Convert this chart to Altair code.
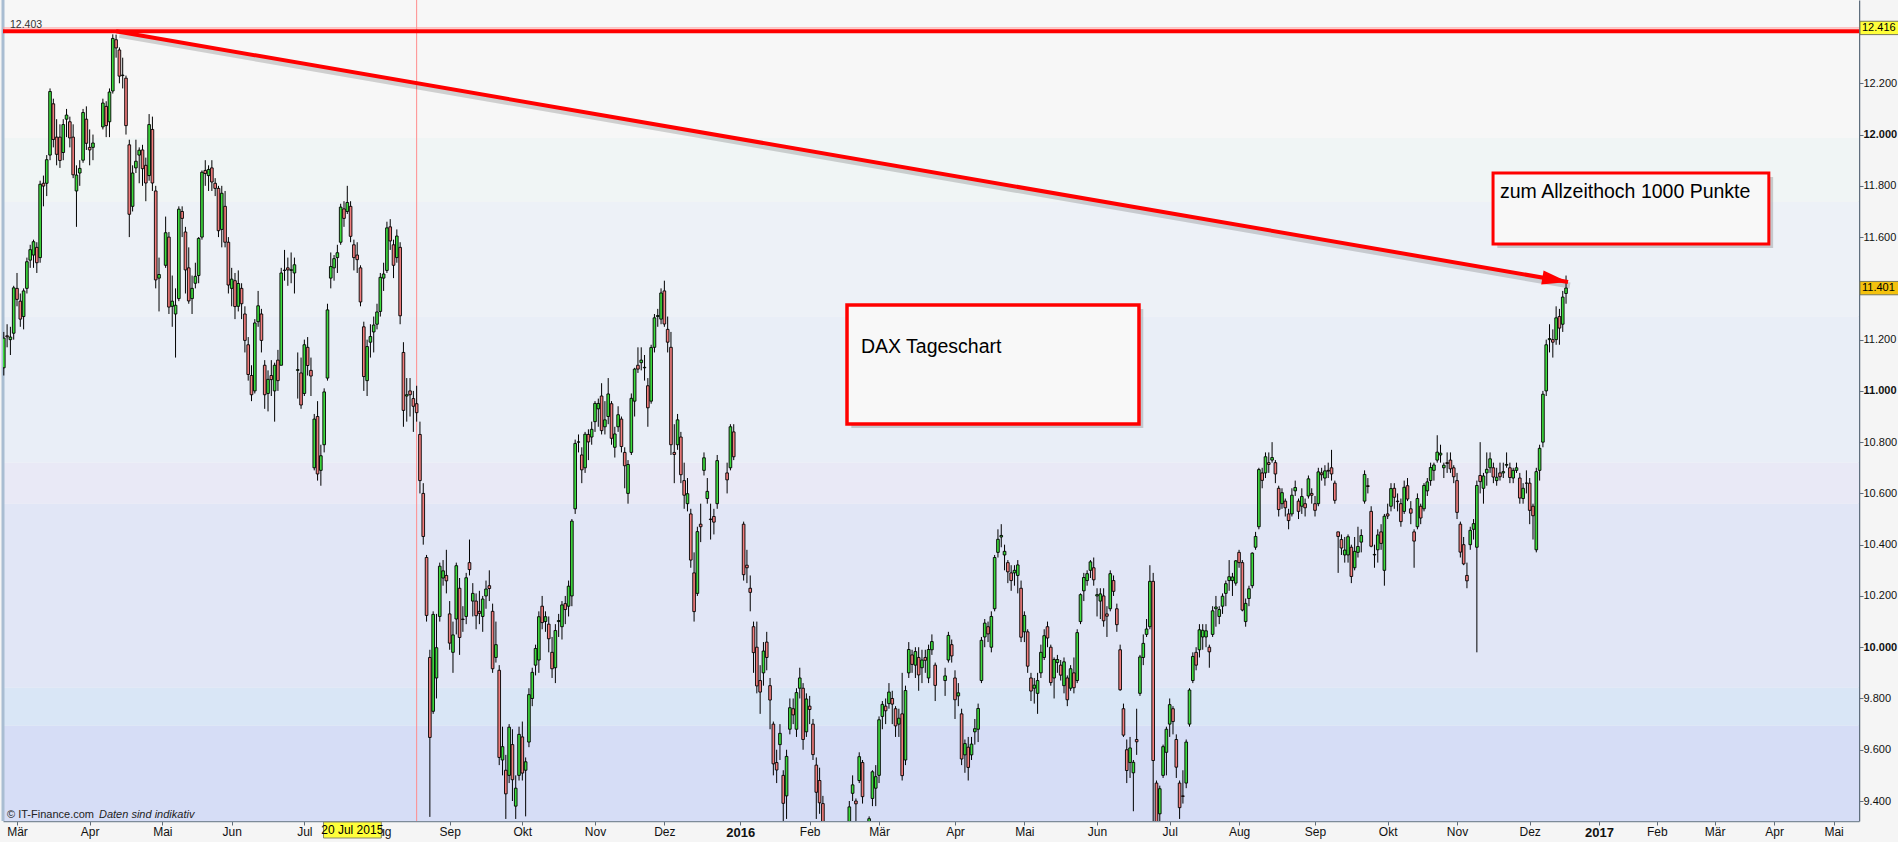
import json

import altair as alt
import numpy as np
import pandas as pd

# ---------------------------------------------------------------------------
# DAX daily candles (index points), one line per month
# ---------------------------------------------------------------------------
OPEN_2015 = [
    11090, 11215, 11200, 11225,
    11400, 11350, 11290, 11400, 11510, 11530, 11560, 11520, 11810, 11810, 11920, 12120, 11990, 11990, 11930, 12060, 12050, 11990, 11780, 11850, 11900, 12060,
    11950, 11950, 12030, 12110, 12050, 12170, 12370, 12330, 12230, 12220, 11960, 11720, 11870, 11920, 11940, 11880, 11840, 12020, 11780, 11440,
    11490, 11600, 11330, 11300, 11360, 11700, 11620, 11480, 11360, 11420, 11450, 11600, 11860, 11840, 11870, 11810, 11790, 11630, 11720, 11580,
    11400, 11430, 11330, 11400, 11300, 11180, 11060, 11000, 11270, 11300, 11100, 10990, 11060, 11000, 11120, 11100, 11470, 11480, 11470, 11460, 11080, 11070,
    10990, 11170, 11080, 10700, 10900, 10690, 10790, 11050, 11440, 11480, 11520, 11580, 11710, 11700, 11720, 11570, 11530, 11480, 11250, 11040, 11190, 11230, 11260,
    11310, 11440, 11470, 11640, 11570, 11520, 11560, 11150, 10980, 11000, 10970, 10950, 10830, 10600, 10350, 9960, 9750, 9880, 10120, 10270, 10280,
    10130, 9980, 10110, 10230, 10110, 10120, 10330, 10180, 10180, 10140, 10120, 10200, 10240, 10140, 9960, 9910, 9560, 9520, 9500, 9620, 9380, 9500,
    9650, 9520, 9630, 9800, 9930, 9950, 10160, 10100, 10090, 9980, 9920, 10100, 10080, 10170, 10160, 10200, 10540, 10800, 10750, 10700, 10830, 10820,
    10880, 10930, 10980, 10860, 10900, 10950, 10780, 10860, 10890, 10760, 10600, 10760, 10960, 11100, 11110, 11090, 11020, 10960, 11170, 11290, 11280,
    11390, 11240, 11170, 10760, 10790, 10820, 10650, 10560, 10520, 10290, 10210, 10480, 10690, 10580, 10500, 10510, 10560, 10680, 10700, 10840,
]
HIGH_2015 = [
    11230, 11260, 11250, 11410,
    11460, 11380, 11400, 11520, 11570, 11590, 11580, 11820, 11840, 11920, 12180, 12140, 12060, 12040, 12060, 12100, 12070, 12040, 11880, 11900, 12100, 12110,
    12020, 12000, 12140, 12130, 12180, 12391, 12390, 12340, 12300, 12230, 11980, 11880, 11980, 11950, 11960, 11910, 12080, 12070, 11800, 11520,
    11680, 11620, 11450, 11400, 11720, 11720, 11640, 11560, 11450, 11500, 11600, 11860, 11900, 11880, 11900, 11830, 11800, 11800, 11780, 11600,
    11480, 11460, 11470, 11420, 11330, 11210, 11100, 11280, 11390, 11320, 11120, 11080, 11120, 11110, 11160, 11480, 11550, 11520, 11540, 11520, 11150, 11130,
    11200, 11210, 11130, 10910, 10960, 10790, 11010, 11340, 11540, 11530, 11570, 11730, 11740, 11800, 11740, 11590, 11580, 11490, 11270, 11200, 11260, 11290, 11340,
    11460, 11500, 11660, 11670, 11590, 11630, 11580, 11190, 11050, 11050, 11000, 11020, 10880, 10640, 10360, 9990, 10140, 10130, 10330, 10340, 10380,
    10180, 10100, 10330, 10270, 10160, 10290, 10420, 10250, 10210, 10220, 10200, 10260, 10300, 10170, 10100, 9930, 9690, 9580, 9700, 9680, 9500, 9690,
    9710, 9570, 9840, 9920, 10010, 10140, 10200, 10140, 10120, 10040, 10090, 10130, 10180, 10200, 10260, 10500, 10810, 10830, 10780, 10840, 10850, 10880,
    10960, 10970, 11030, 10960, 11050, 10960, 10860, 10940, 10900, 10780, 10730, 10990, 11090, 11170, 11170, 11140, 11050, 11180, 11300, 11320, 11400,
    11430, 11290, 11230, 10870, 10910, 10840, 10720, 10660, 10540, 10370, 10470, 10560, 10760, 10660, 10560, 10540, 10750, 10720, 10870, 10870,
]
LOW_2015 = [
    11060, 11170, 11140, 11200,
    11330, 11250, 11240, 11380, 11480, 11480, 11460, 11500, 11720, 11760, 11900, 11950, 11880, 11870, 11900, 11990, 11950, 11830, 11640, 11800, 11890, 11940,
    11880, 11900, 12020, 11990, 11990, 12160, 12300, 12200, 12180, 12000, 11600, 11700, 11850, 11810, 11800, 11740, 11820, 11780, 11400, 11310,
    11480, 11300, 11250, 11130, 11350, 11600, 11380, 11340, 11300, 11400, 11420, 11590, 11800, 11780, 11780, 11760, 11600, 11560, 11560, 11380,
    11330, 11280, 11310, 11280, 11150, 11040, 10960, 10990, 11250, 11150, 10930, 10920, 10980, 10880, 11000, 11100, 11430, 11410, 11420, 11380, 10970, 10930,
    10980, 11060, 10980, 10690, 10650, 10630, 10760, 11040, 11400, 11430, 11460, 11570, 11640, 11690, 11580, 11470, 11460, 11330, 11000, 10980, 11130, 11150, 11240,
    11290, 11390, 11460, 11550, 11440, 11500, 11260, 10860, 10880, 10900, 10840, 10880, 10600, 10400, 10100, 9338, 9740, 9800, 10100, 10240, 10210,
    9990, 9900, 10050, 9970, 10060, 10090, 10280, 10120, 10070, 10090, 10060, 10150, 10180, 9900, 9940, 9540, 9500, 9330, 9470, 9400, 9330, 9480,
    9480, 9340, 9610, 9770, 9890, 9900, 10070, 10060, 9980, 9880, 9860, 10040, 10030, 10090, 10120, 10160, 10520, 10760, 10640, 10680, 10730, 10790,
    10840, 10860, 10830, 10830, 10870, 10790, 10740, 10840, 10760, 10620, 10560, 10750, 10900, 11070, 11080, 11040, 10860, 10950, 11150, 11250, 11260,
    11250, 11150, 10750, 10640, 10770, 10640, 10540, 10530, 10310, 10100, 10200, 10410, 10670, 10560, 10420, 10440, 10540, 10600, 10690, 10730,
]
CLOSE_2015 = [
    11206, 11211, 11210, 11402,
    11357, 11280, 11390, 11504, 11551, 11582, 11500, 11806, 11799, 11902, 12168, 11981, 11923, 11899, 12039, 12076, 11987, 11843, 11842, 11868, 12086, 11966,
    11940, 11967, 12123, 12035, 12166, 12375, 12338, 12228, 12232, 12035, 11689, 11850, 11896, 11939, 11867, 11811, 12039, 11811, 11433, 11454,
    11617, 11327, 11350, 11334, 11709, 11673, 11472, 11351, 11400, 11447, 11595, 11853, 11848, 11864, 11815, 11790, 11625, 11771, 11580, 11413,
    11436, 11329, 11419, 11340, 11197, 11064, 10985, 11265, 11332, 11197, 10985, 11045, 11044, 11100, 11040, 11460, 11471, 11472, 11473, 11492, 11083, 10945,
    11180, 11099, 11058, 10890, 10676, 10747, 10996, 11316, 11485, 11516, 11539, 11717, 11673, 11735, 11603, 11520, 11512, 11347, 11056, 11173, 11212, 11257, 11308,
    11443, 11456, 11636, 11585, 11490, 11604, 11293, 10924, 10985, 10985, 10940, 10915, 10650, 10432, 10124, 9648, 10128, 9998, 10316, 10298, 10259,
    10016, 10048, 10318, 10038, 10108, 10271, 10303, 10210, 10123, 10132, 10188, 10227, 10229, 9916, 10010, 9570, 9612, 9428, 9688, 9483, 9450, 9660,
    9509, 9553, 9815, 9902, 9995, 10119, 10096, 10119, 10033, 9916, 10065, 10104, 10165, 10147, 10238, 10492, 10795, 10801, 10692, 10831, 10801, 10850,
    10951, 10951, 10845, 10887, 10988, 10815, 10832, 10907, 10783, 10708, 10713, 10971, 11085, 11085, 11120, 11092, 10934, 11169, 11285, 11294, 11382,
    11261, 11190, 10790, 10752, 10887, 10673, 10593, 10599, 10340, 10139, 10451, 10470, 10739, 10608, 10498, 10488, 10728, 10653, 10860, 10743,
]

OPEN_2016 = [
    10480, 10320, 10230, 10080, 10000, 9870, 9900, 10020, 9850, 9700, 9550, 9620, 9500, 9420, 9680, 9760, 9680, 9840, 9840, 9670,
    9770, 9700, 9540, 9480, 9390, 9260, 8940, 8960, 8900, 8830, 9110, 9240, 9200, 9430, 9400, 9480, 9550, 9300, 9250, 9410, 9450,
    9500, 9730, 9770, 9780, 9800, 9760, 9700, 9740, 9560, 9900, 9970, 9930, 9960, 9920, 9960, 9880, 9990, 9930, 9870, 9950, 10010,
    9880, 9810, 9740, 9580, 9610, 9580, 9670, 9680, 9870, 10040, 10080, 10000, 10150, 10370, 10430, 10360, 10330, 10290, 10290, 10280, 10230,
    10060, 10060, 9880, 9840, 9820, 9900, 9960, 10080, 10000, 9880, 9940, 9930, 9850, 9880, 9840, 9900, 9870, 10100, 10220, 10260, 10300, 10310,
    10200, 10180, 10200, 10130, 10150, 10260, 10150, 9990, 9760, 9600, 9550, 9510, 9640, 9820, 9960, 10050, 10080, 10257, 9470, 9350, 9500, 9590,
    9700, 9760, 9640, 9470, 9420, 9470, 9700, 9870, 9980, 9990, 10040, 10040, 10000, 10050, 10150, 10120, 10160, 10210, 10260, 10260, 10250,
    10370, 10330, 10100, 10190, 10240, 10390, 10470, 10680, 10680, 10720, 10730, 10720, 10620, 10560, 10570, 10520, 10520, 10610, 10570, 10550, 10560, 10590, 10600,
    10560, 10560, 10680, 10660, 10690, 10700, 10640, 10450, 10420, 10360, 10360, 10390, 10310, 10370, 10410, 10570, 10630, 10530, 10360, 10380, 10450, 10300,
    10520, 10550, 10620, 10570, 10560, 10530, 10630, 10540, 10450, 10470, 10550, 10540, 10610, 10650, 10690, 10730, 10750, 10700, 10720, 10730, 10700,
    10650, 10480, 10400, 10280, 10400, 10460, 10390, 10670, 10620, 10680, 10700, 10700, 10650, 10680, 10680, 10710, 10700, 10660, 10690, 10660, 10580, 10640,
    10640, 10550, 10380, 10690, 10800, 11000, 11200, 11200, 11200, 11290, 11260, 11380,
]
HIGH_2016 = [
    10490, 10380, 10280, 10100, 10100, 9930, 10020, 10060, 9880, 9710, 9600, 9700, 9520, 9600, 9800, 9800, 9840, 9920, 9860, 9820,
    9810, 9720, 9570, 9530, 9420, 9280, 9050, 9100, 8920, 9000, 9240, 9320, 9400, 9500, 9410, 9590, 9560, 9310, 9340, 9520, 9540,
    9730, 9790, 9800, 9860, 9830, 9770, 9760, 9900, 9850, 10020, 9990, 10000, 10000, 9990, 9990, 10010, 10050, 9940, 9920, 10060, 10030,
    9910, 9860, 9760, 9640, 9650, 9650, 9720, 9780, 10040, 10110, 10100, 10140, 10360, 10460, 10480, 10400, 10340, 10320, 10320, 10340, 10260,
    10140, 10070, 9900, 9880, 9900, 10010, 10070, 10100, 10010, 9960, 9970, 9950, 9960, 9890, 9930, 9960, 10070, 10210, 10290, 10300, 10340, 10350,
    10230, 10230, 10230, 10160, 10300, 10280, 10170, 10010, 9780, 9640, 9650, 9560, 9760, 9970, 10050, 10110, 10320, 10290, 9480, 9460, 9620, 9690,
    9800, 9770, 9660, 9480, 9520, 9640, 9840, 9980, 10000, 10090, 10090, 10090, 10010, 10160, 10200, 10160, 10210, 10260, 10340, 10290, 10340,
    10380, 10340, 10190, 10240, 10370, 10450, 10700, 10700, 10760, 10760, 10800, 10730, 10630, 10620, 10580, 10540, 10620, 10650, 10580, 10620, 10580, 10670, 10620,
    10590, 10700, 10700, 10710, 10720, 10770, 10650, 10450, 10440, 10430, 10440, 10400, 10430, 10470, 10460, 10690, 10660, 10550, 10400, 10460, 10480, 10520,
    10560, 10640, 10640, 10600, 10580, 10650, 10660, 10570, 10460, 10600, 10560, 10640, 10660, 10720, 10720, 10827, 10790, 10720, 10760, 10760, 10710,
    10680, 10490, 10430, 10330, 10470, 10500, 10650, 10800, 10680, 10760, 10760, 10720, 10700, 10720, 10720, 10760, 10720, 10700, 10720, 10680, 10640, 10690,
    10660, 10560, 10700, 10790, 11000, 11200, 11260, 11240, 11330, 11320, 11390, 11450,
]
LOW_2016 = [
    10260, 10250, 10140, 9900, 9820, 9740, 9850, 9910, 9680, 9500, 9470, 9560, 9310, 9330, 9660, 9700, 9650, 9800, 9600, 9650,
    9700, 9560, 9330, 9350, 9240, 8950, 8780, 8900, 8700, 8820, 9100, 9100, 9150, 9400, 9300, 9470, 9390, 9100, 9200, 9380, 9380,
    9470, 9680, 9700, 9760, 9700, 9650, 9650, 9480, 9540, 9880, 9900, 9880, 9830, 9860, 9900, 9860, 9970, 9790, 9810, 9940, 9940,
    9720, 9770, 9540, 9510, 9480, 9560, 9620, 9630, 9860, 10000, 10020, 9980, 10140, 10350, 10390, 10300, 10250, 10220, 10240, 10210, 10020,
    10020, 9900, 9790, 9780, 9740, 9880, 9950, 10000, 9850, 9800, 9900, 9870, 9820, 9770, 9830, 9820, 9860, 10090, 10180, 10240, 10270, 10240,
    10120, 10110, 10080, 10040, 10140, 10200, 10060, 9830, 9650, 9470, 9490, 9360, 9580, 9810, 9930, 10040, 10070, 9214, 9210, 9300, 9490, 9500,
    9650, 9660, 9490, 9330, 9390, 9450, 9690, 9860, 9910, 9960, 9990, 10000, 9920, 10040, 10080, 10090, 10130, 10160, 10220, 10200, 10240,
    10310, 10140, 10080, 10160, 10230, 10380, 10460, 10620, 10660, 10680, 10720, 10640, 10510, 10540, 10510, 10460, 10510, 10590, 10500, 10520, 10510, 10580, 10560,
    10510, 10550, 10650, 10630, 10660, 10650, 10560, 10290, 10360, 10330, 10330, 10250, 10300, 10350, 10370, 10560, 10600, 10390, 10310, 10330, 10380, 10240,
    10500, 10530, 10540, 10530, 10470, 10520, 10570, 10480, 10310, 10460, 10480, 10530, 10590, 10630, 10650, 10720, 10720, 10660, 10680, 10680, 10640,
    10500, 10350, 10320, 10230, 10380, 10420, 9980, 10600, 10560, 10630, 10680, 10640, 10630, 10650, 10660, 10700, 10640, 10640, 10680, 10560, 10560, 10600,
    10480, 10420, 10370, 10650, 10780, 10980, 11150, 11130, 11180, 11180, 11230, 11340,
]
CLOSE_2016 = [
    10283, 10310, 10214, 9979, 9849, 9825, 9985, 9960, 9794, 9545, 9521, 9664, 9391, 9574, 9764, 9736, 9823, 9880, 9640, 9798,
    9757, 9581, 9434, 9393, 9286, 8980, 8879, 9017, 8752, 8967, 9207, 9135, 9377, 9463, 9389, 9573, 9417, 9167, 9331, 9514, 9495,
    9717, 9777, 9752, 9825, 9778, 9693, 9723, 9499, 9831, 9991, 9933, 9983, 9892, 9950, 9949, 9991, 10022, 9851, 9888, 10046, 9966,
    9795, 9822, 9564, 9624, 9531, 9622, 9682, 9761, 10027, 10094, 10052, 10120, 10350, 10421, 10436, 10374, 10294, 10260, 10300, 10321, 10039,
    10124, 9926, 9829, 9852, 9870, 9980, 10045, 10036, 9862, 9952, 9952, 9891, 9943, 9795, 9916, 9842, 10057, 10205, 10272, 10287, 10333, 10263,
    10205, 10208, 10103, 10121, 10287, 10218, 10088, 9834, 9657, 9519, 9607, 9551, 9631, 9962, 10015, 10071, 10257, 9558, 9269, 9448, 9612, 9680,
    9776, 9710, 9532, 9374, 9418, 9630, 9833, 9964, 9930, 10068, 10066, 10064, 9982, 10142, 10157, 10147, 10199, 10248, 10275, 10274, 10337,
    10330, 10145, 10171, 10228, 10367, 10432, 10693, 10651, 10743, 10713, 10740, 10676, 10537, 10603, 10544, 10494, 10593, 10623, 10530, 10588, 10544, 10657, 10593,
    10534, 10684, 10673, 10688, 10687, 10676, 10573, 10432, 10387, 10379, 10431, 10276, 10374, 10393, 10436, 10674, 10627, 10394, 10362, 10438, 10405, 10511,
    10512, 10619, 10585, 10568, 10490, 10624, 10578, 10523, 10414, 10580, 10504, 10631, 10645, 10701, 10711, 10761, 10757, 10710, 10717, 10696, 10665,
    10526, 10371, 10325, 10259, 10456, 10482, 10631, 10646, 10668, 10694, 10735, 10664, 10663, 10665, 10685, 10713, 10662, 10690, 10700, 10582, 10620, 10640,
    10534, 10513, 10685, 10776, 10987, 11180, 11204, 11190, 11285, 11245, 11366, 11401,
]

FIRST_DAY, LAST_DAY = "2015-02-24", "2016-12-16"
HOLIDAYS = ["2015-04-03", "2015-04-06", "2015-05-01", "2015-12-24", "2015-12-25",
            "2015-12-31", "2016-01-01", "2016-03-25", "2016-03-28"]
ORIGIN = "2015-03-02"          # slot 0 of the weekday axis

MONTH_LABELS = ["Mär", "Apr", "Mai", "Jun", "Jul", "Aug", "Sep", "Okt", "Nov", "Dez",
                "2016", "Feb", "Mär", "Apr", "Mai", "Jun", "Jul", "Aug", "Sep", "Okt", "Nov", "Dez",
                "2017", "Feb", "Mär", "Apr", "Mai"]
FUTURE_TICKS = [479, 496.5, 514, 532, 550]   # 2017 months in the projection area

# background shading bands (edges in index points, top to bottom)
BAND_EDGES = [12525, 11987, 11738, 11289, 10720, 10560, 9842, 9694, 9322]
BAND_COLORS = ["#F7F7F7", "#F0F5F5", "#EDF1F7", "#E9EEF7", "#E9E9F6", "#E1E6F6", "#D9E6F6", "#D6DDF6"]

ALL_TIME_HIGH = 12403
HIGH_MARK = 12416
LAST_PRICE = 11401

# ---------------------------------------------------------------------------
W, H = 1856, 821
X_MIN, X_MAX = -4.24, 557.7
Y_MIN, Y_MAX = 9322, 12525
FONT = "Liberation Sans, Arial, sans-serif"
NARROW = "Liberation Sans Narrow, Arial Narrow, Liberation Sans, sans-serif"
GREEN, RED = "#3DDC3D", "#F27D7D"


def slot_of(day):
    return int(np.busday_count(np.datetime64(ORIGIN), np.datetime64(day, "D")))


days = pd.bdate_range(FIRST_DAY, LAST_DAY)
days = days[~days.isin(pd.to_datetime(HOLIDAYS))]
opens, highs = OPEN_2015 + OPEN_2016, HIGH_2015 + HIGH_2016
lows, closes = LOW_2015 + LOW_2016, CLOSE_2015 + CLOSE_2016
assert len(days) == len(opens) == len(highs) == len(lows) == len(closes)

candles = pd.DataFrame({
    "slot": np.busday_count(np.datetime64(ORIGIN), days.values.astype("datetime64[D]")),
    "open": opens, "high": highs, "low": lows, "close": closes,
})
candles["x0"] = candles["slot"] - 0.4
candles["x1"] = candles["slot"] + 0.4
candles["fill"] = np.where(candles["close"] >= candles["open"], GREEN, RED)

month_starts = pd.date_range("2015-03-01", "2016-12-01", freq="MS").values.astype("datetime64[D]")
first_bdays = np.busday_offset(month_starts, 0, roll="forward")
tick_slots = [int(v) for v in np.busday_count(np.datetime64(ORIGIN), first_bdays)] + FUTURE_TICKS
year_slots = [tick_slots[MONTH_LABELS.index("2016")], tick_slots[MONTH_LABELS.index("2017")]]
year_test = " || ".join(f"datum.value == {v}" for v in year_slots)

x_label_expr = (f"{json.dumps(MONTH_LABELS, ensure_ascii=False)}"
                f"[indexof({json.dumps(tick_slots)}, datum.value)]")
hidden = [ALL_TIME_HIGH // 100 * 100, LAST_PRICE // 100 * 100]
y_label_expr = ("datum.value % 200 == 0 && indexof(" + json.dumps(hidden) +
                ", datum.value) < 0 ? replace(format(datum.value, ','), ',', '.') : ''")

xs = alt.Scale(domain=[X_MIN, X_MAX], nice=False, zero=False)
ys = alt.Scale(domain=[Y_MIN, Y_MAX], nice=False, zero=False)

x_axis = alt.Axis(
    values=tick_slots, labelExpr=x_label_expr, title=None, grid=False, orient="bottom",
    domainColor="#7D8B99", domainWidth=1.5, tickColor="#5E6B78", tickSize=4,
    labelPadding=1, labelFont=NARROW, labelColor="#111111",
    labelFontSize={"condition": {"test": year_test, "value": 13}, "value": 12},
    labelFontWeight={"condition": {"test": year_test, "value": "bold"}, "value": "normal"},
    labelOverlap=False, labelFlush=False, labelBound=False,
)
y_axis = alt.Axis(
    values=list(range(9400, 12501, 100)), labelExpr=y_label_expr, title=None, grid=False,
    orient="right", domainColor="#5F6E7D", domainWidth=1.5, tickColor="#5F6E7D", tickSize=4,
    labelPadding=0, labelFont=FONT, labelColor="#111111", labelFontSize=11,
    labelFontWeight={"condition": {"test": "datum.value % 1000 == 0", "value": "bold"}, "value": "normal"},
    labelOverlap=False, labelFlush=False, labelBound=False,
)


def XD(v):
    return alt.XDatum(v, type="quantitative")


def YD(v):
    return alt.YDatum(v, type="quantitative")


one = pd.DataFrame({"k": [0]})

# background bands; this first layer carries the shared scales and both axes
bands_df = pd.DataFrame({"hi": BAND_EDGES[:-1], "lo": BAND_EDGES[1:], "color": BAND_COLORS})
bands = alt.Chart(bands_df).mark_rect().encode(
    x=alt.XDatum(X_MIN, type="quantitative", scale=xs, axis=x_axis),
    x2=alt.X2Datum(X_MAX),
    y=alt.Y("lo:Q", scale=ys, axis=y_axis),
    y2="hi:Q",
    color=alt.Color("color:N", scale=None),
)
left_border = alt.Chart(one).mark_rule(color="#A9BDD2", strokeWidth=3).encode(x=XD(X_MIN))
marker_line = alt.Chart(one).mark_rule(color="#FF8C8C", strokeWidth=1).encode(x=XD(slot_of("2015-08-18")))

# candles
wicks = alt.Chart(candles).mark_rule(color="#000000", strokeWidth=1, clip=True).encode(
    x="slot:Q", y="low:Q", y2="high:Q",
)
bodies = alt.Chart(candles).mark_rect(stroke="#000000", strokeWidth=0.9, clip=True).encode(
    x="x0:Q", x2="x1:Q", y="open:Q", y2="close:Q",
    fill=alt.Fill("fill:N", scale=None),
)

# resistance line at the all-time high
high_thin = alt.Chart(one).mark_rule(color="#FF9C9C", strokeWidth=1).encode(y=YD(HIGH_MARK))
high_line = alt.Chart(one).mark_rule(color="#FF0000", strokeWidth=4).encode(y=YD(ALL_TIME_HIGH))
high_text = alt.Chart(one).mark_text(
    text="12.403", font=FONT, fontSize=10.5, color="#333333", align="left", baseline="alphabetic", dx=7, dy=-3
).encode(x=XD(X_MIN), y=YD(ALL_TIME_HIGH))

# arrow from the record high to the current price
a0 = (slot_of("2015-04-13"), ALL_TIME_HIGH)
a1 = (slot_of("2016-12-16") + 0.6, 11425)
px_x = W / (X_MAX - X_MIN)
px_y = H / (Y_MAX - Y_MIN)
angle = float(np.degrees(np.arctan2((a0[1] - a1[1]) * px_y, (a1[0] - a0[0]) * px_x)))
arrow_df = pd.DataFrame({"slot": [a0[0], a1[0]], "price": [a0[1], a1[1]]})
shadow_df = pd.DataFrame({"slot": [a0[0] + 1.0, a1[0] + 0.6], "price": [a0[1] - 14, a1[1] - 14]})
arrow_shadow = alt.Chart(shadow_df).mark_line(color="#000000", strokeWidth=6, opacity=0.16).encode(
    x="slot:Q", y="price:Q")
arrow = alt.Chart(arrow_df).mark_line(color="#FF0000", strokeWidth=4).encode(x="slot:Q", y="price:Q")
arrow_head = alt.Chart(one).mark_point(
    shape="M0,0L-2,-0.54L-2,0.54Z", size=676, angle=round(angle, 2),
    filled=True, color="#FF0000", opacity=1, strokeWidth=0,
).encode(x=XD(a1[0]), y=YD(a1[1]))

# annotation boxes: (text, left slot, right slot, top, bottom, text slot, text baseline, stroke width)
BOXES = [
    ("DAX Tageschart", 251.3, 339.7, 11335, 10871, 255.5, 11148, 3.5),
    ("zum Allzeithoch 1000 Punkte", 446.9, 530.4, 11850, 11573, 449.0, 11753, 3.0),
]
box_layers = []
for text, l, r, t, b, tx, ty, sw in BOXES:
    box_layers.append(alt.Chart(one).mark_rect(color="#7A7A7A", opacity=0.35).encode(
        x=XD(l + 1.3), x2=alt.X2Datum(r + 1.3), y=YD(b - 16), y2=alt.Y2Datum(t - 16)))
    box_layers.append(alt.Chart(one).mark_rect(fill="#F8F8F8", stroke="#FF0000", strokeWidth=sw).encode(
        x=XD(l), x2=alt.X2Datum(r), y=YD(b), y2=alt.Y2Datum(t)))
    box_layers.append(alt.Chart(one).mark_text(
        text=text, font=FONT, fontSize=19.5, color="#000000", align="left", baseline="alphabetic"
    ).encode(x=XD(tx), y=YD(ty)))

# source line
src1 = alt.Chart(one).mark_text(
    text="© IT-Finance.com", font=FONT, fontSize=11, color="#222222", align="left", baseline="alphabetic", dx=4
).encode(x=XD(X_MIN), y=YD(9334))
src2 = alt.Chart(one).mark_text(
    text="Daten sind indikativ", font=FONT, fontSize=11, fontStyle="italic", color="#222222",
    align="left", baseline="alphabetic", dx=96
).encode(x=XD(X_MIN), y=YD(9334))

# price tags on the right axis
tag_layers = []
for value, fill in [(HIGH_MARK, "#FFFF3A"), (LAST_PRICE, "#F4C20D")]:
    tag_layers.append(alt.Chart(one).mark_rect(fill=fill, stroke="#7A7A5A", strokeWidth=1).encode(
        x=alt.value(W + 1), x2=alt.value(W + 48), y=YD(value + 26), y2=alt.Y2Datum(value - 26)))
    tag_layers.append(alt.Chart(one).mark_text(
        text=f"{value // 1000}.{value % 1000:03d}", font=FONT, fontSize=11, color="#000000",
        align="left", baseline="middle"
    ).encode(x=alt.value(W + 3), y=YD(value)))

# cursor date tag on the time axis
cursor = slot_of("2015-07-20")
cursor_box = alt.Chart(one).mark_rect(fill="#FFFF3A", stroke="#8A8A6A", strokeWidth=1).encode(
    x=XD(cursor - 7.2), x2=alt.X2Datum(cursor + 10.3), y=alt.value(H + 1), y2=alt.value(H + 17))
cursor_text = alt.Chart(one).mark_text(
    text="20 Jul 2015", font=NARROW, fontSize=12, color="#000000", align="center", baseline="middle", dx=5
).encode(x=XD(cursor), y=alt.value(H + 9))

chart = alt.layer(
    bands, left_border, marker_line, wicks, bodies, high_thin, high_line, high_text,
    arrow_shadow, arrow, arrow_head, *box_layers, src1, src2, *tag_layers, cursor_box, cursor_text,
).properties(
    width=W, height=H,
    autosize=alt.AutoSizeParams(type="none"),
    padding={"left": 3, "right": 39, "top": 0, "bottom": 21},
    background="#F5F5F5",
).configure_view(stroke=None)

chart.save("out.html", embed_options={"renderer": "svg", "actions": False})
